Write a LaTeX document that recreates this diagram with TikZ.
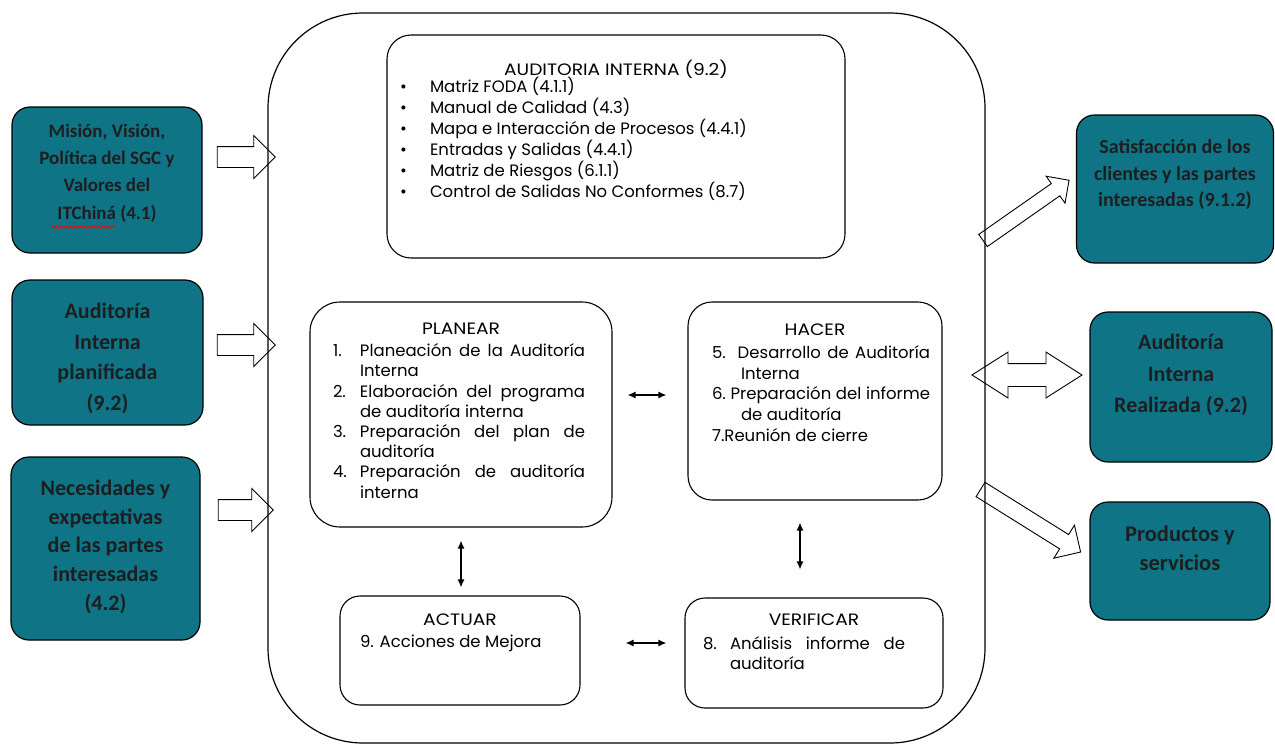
\documentclass[tikz,border=0pt]{standalone}
\usepackage{fontspec}
\setmainfont{Poppins}
\newfontfamily\titfont[FakeStretch=1.13]{Poppins}
\newfontfamily\calibri{Carlito}
\usetikzlibrary{calc,shapes.arrows,arrows.meta,decorations.pathmorphing}

\definecolor{petroleo}{RGB}{14,116,134}
\definecolor{tinta}{RGB}{28,30,32}

\newcommand{\caja}[4]{\parbox[c][#1][t]{#2}{\vspace*{#3}#4}}
\newcommand{\titulo}[1]{\centerline{\titfont #1}}
\newcommand{\vineta}[1]{\noindent\hspace*{13pt}\makebox[30pt][l]{\textbullet}#1\par}
\newcommand{\paso}[3]{\hangindent=#1\hangafter=1\noindent\makebox[#1][l]{#2}#3\par}
\newcommand{\renglon}[1]{\noindent\hbox to\dimexpr\hsize-\leftskip-\rightskip\relax{#1}\par}

\begin{document}
\begin{tikzpicture}[x=1pt, y=-1pt,
  tealbox/.style={draw, line width=1.2pt, fill=petroleo, rounded corners=18pt, inner sep=0pt, text=tinta, font=\calibri\bfseries},
  inbox/.style={draw, line width=1.1pt, rounded corners=24pt, inner sep=0pt, fill=white},
  blockarrow/.style={single arrow, draw, line width=0.9pt, fill=white, inner sep=10pt, single arrow head extend=11pt, minimum height=58pt},
  twoway/.style={<->, >={Latex[length=8pt,width=7pt]}, line width=1.3pt}]
\useasboundingbox (0,0) rectangle (1275,745);
%\draw (0,0) rectangle (1275,745);

% entradas
\node (mision) [tealbox] at (107,180) {\caja{146pt}{190pt}{17pt}{\centering\fontsize{19}{27.3}\selectfont
  Misión, Visión,\\ Política del SGC y\\ Valores del\\ ITChiná (4.1)}};
\draw [red, line width=0.8pt, decorate, decoration={snake, amplitude=1.2pt, segment length=3.5pt}]
  ($(mision.center)+(-55,47)$) -- ++(62,0);
\node (planif) [tealbox] at (107.5,352.5) {\caja{145pt}{191pt}{23pt}{\centering\fontsize{22}{30.7}\selectfont
  Auditoría\\ Interna\\ planificada\\ (9.2)}};
\node (necesid) [tealbox] at (105.5,548.5) {\caja{183pt}{189pt}{23pt}{\centering\fontsize{22}{28.7}\selectfont
  Necesidades y\\ expectativas\\ de las partes\\ interesadas\\ (4.2)}};

% salidas
\node (satisf) [tealbox] at (1175,189) {\caja{148pt}{197pt}{24.5pt}{\centering\fontsize{20}{26.5}\selectfont
  Satisfacción de los\\ clientes y las partes\\ interesadas (9.1.2)}};
\node (realiz) [tealbox] at (1181,387) {\caja{150pt}{182pt}{22.5pt}{\centering\fontsize{22}{31.5}\selectfont
  Auditoría\\ Interna\\ Realizada (9.2)}};
\node (product) [tealbox] at (1180,561) {\caja{118pt}{180pt}{24pt}{\centering\fontsize{22.5}{29}\selectfont
  Productos y\\ servicios}};

\node (fl1) [blockarrow] at (241,157) {};
\node (fl2) [blockarrow] at (241,345) {};
\node (fl3) [blockarrow, minimum height=55pt] at (240.5,510) {};

\node (fr1) [blockarrow, rotate=35, minimum height=105pt, inner sep=7pt, single arrow head extend=9pt] at (1023,212.5) {};
\node (fr2) [double arrow, draw, line width=0.9pt, fill=white, minimum height=110pt, inner sep=11pt,
  double arrow head extend=11.5pt, double arrow tip angle=65] at (1027,375) {};
\node (fr3) [blockarrow, rotate=-32, minimum height=118pt, inner sep=8pt, single arrow head extend=11pt] at (1027,518.5) {};

\node (marco) [draw, line width=1.2pt, rounded corners=95pt, minimum width=717pt, minimum height=730pt, inner sep=0pt] at (626.5,378) {};

\node (auditoria) [inbox] at (616,146.5) {\caja{223pt}{458pt}{25pt}{\fontsize{16.5}{21}\selectfont
  \titulo{AUDITORIA INTERNA (9.2)}\vskip-4pt
  \vineta{Matriz FODA (4.1.1)}
  \vineta{Manual de Calidad (4.3)}
  \vineta{Mapa e Interacción de Procesos (4.4.1)}
  \vineta{Entradas y Salidas (4.4.1)}
  \vineta{Matriz de Riesgos (6.1.1)}
  \vineta{Control de Salidas No Conformes (8.7)}}};

\node (planear) [inbox, rounded corners=30pt] at (461,414.5) {\caja{225pt}{302pt}{21pt}{\fontsize{16.5}{20.2}\selectfont
  \titulo{PLANEAR}\vskip2pt
  \leftskip=23pt \rightskip=27pt
  \paso{27pt}{1.}{Planeación de la Auditoría\linebreak Interna}
  \paso{27pt}{2.}{Elaboración del programa\linebreak de auditoría interna}
  \paso{27pt}{3.}{Preparación del plan de\linebreak auditoría}
  \paso{27pt}{4.}{Preparación de auditoría\linebreak interna}}};

\node (hacer) [inbox] at (815,401) {\caja{198pt}{254pt}{22pt}{\fontsize{16.5}{20.7}\selectfont
  \titulo{HACER}\vskip2pt
  \leftskip=24pt \rightskip=12pt
  \renglon{5. Desarrollo de Auditoría}
  \renglon{\hspace*{29pt}Interna\hfil}
  \renglon{6.~Preparación del informe}
  \renglon{\hspace*{29pt}de auditoría\hfil}
  \renglon{7.Reunión de cierre\hfil}}};

\node (actuar) [inbox, rounded corners=20pt] at (460,650.5) {\caja{109pt}{240pt}{18pt}{\fontsize{16.5}{22}\selectfont
  \titulo{ACTUAR}
  \leftskip=20pt
  \noindent 9. Acciones de Mejora\par}};

\node (verificar) [inbox, rounded corners=20pt] at (814,653) {\caja{110pt}{258pt}{16pt}{\fontsize{16.5}{20.5}\selectfont
  \titulo{VERIFICAR}\vskip3pt
  \leftskip=18pt \rightskip=38pt
  \paso{27pt}{8.}{Análisis informe de\linebreak auditoría}}};

\draw [twoway] ($(planear.east)+(15,-19.5)$) -- ($(hacer.west)+(-21,-6)$);
\draw [twoway] ($(planear.south)+(0,13)$) -- ($(actuar.north)+(1,-8)$);
\draw [twoway] ($(hacer.south)+(-15,22)$) -- ($(verificar.north)+(-14,-28)$);
\draw [twoway] ($(actuar.east)+(45,-7.5)$) -- ($(verificar.west)+(-18,-10)$);

\end{tikzpicture}
\end{document}
